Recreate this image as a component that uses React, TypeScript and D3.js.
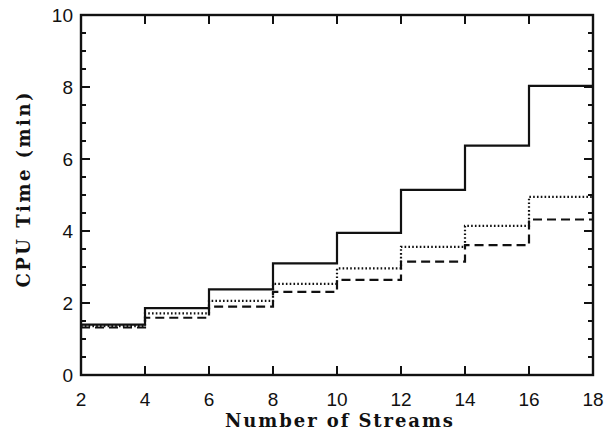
import * as d3 from "d3";

const width = 607;
const height = 433;
const margin = { top: 15, right: 14, bottom: 58, left: 81 };

// bin edges (number of streams) and CPU time per bin (min)
const streamEdges = [2, 4, 6, 8, 10, 12, 14, 16, 18];
const solidTimes = [1.4, 1.86, 2.38, 3.1, 3.95, 5.14, 6.37, 8.03];
const dottedTimes = [1.36, 1.71, 2.06, 2.53, 2.96, 3.56, 4.14, 4.95];
const dashedTimes = [1.32, 1.59, 1.9, 2.31, 2.64, 3.15, 3.61, 4.32];

const xTicks = [2, 4, 6, 8, 10, 12, 14, 16, 18];
const yTicks = [0, 2, 4, 6, 8, 10];
const yMinorTicks = d3.range(0, 10.01, 0.5);

const series = [
  { name: "solid", values: solidTimes, dash: "none" },
  { name: "dotted", values: dottedTimes, dash: "1.6 2.2" },
  { name: "dashed", values: dashedTimes, dash: "9 5" },
];

export default function App() {
  const innerWidth = width - margin.left - margin.right;
  const innerHeight = height - margin.top - margin.bottom;
  const x = d3.scaleLinear().domain([2, 18]).range([0, innerWidth]);
  const y = d3.scaleLinear().domain([0, 10]).range([innerHeight, 0]);

  const line = d3
    .line<[number, number]>()
    .x((d) => x(d[0]))
    .y((d) => y(d[1]))
    .curve(d3.curveStepAfter);

  const toPoints = (values: number[]): [number, number][] => [
    ...values.map((v, i) => [streamEdges[i], v] as [number, number]),
    [streamEdges[streamEdges.length - 1], values[values.length - 1]],
  ];

  const tickFont = { fontFamily: "'Liberation Sans', Arial, sans-serif", fontSize: 19 };
  const titleFont = { fontFamily: "'DejaVu Serif', serif", fontSize: 18, fontWeight: 700 };

  return (
    <svg width={width} height={height} style={{ position: "absolute", left: 0, top: 0, background: "#fff" }}>
      <g transform={`translate(${margin.left}, ${margin.top})`}>
        {series.map((s) => (
          <path
            key={s.name}
            d={line(toPoints(s.values)) ?? ""}
            fill="none"
            stroke="#111"
            strokeWidth={2.2}
            strokeDasharray={s.dash}
          />
        ))}

        {/* y minor + major ticks on both sides */}
        {yMinorTicks.map((t) => {
          const major = Math.abs(t % 2) < 1e-6;
          const len = major ? 9 : 5;
          return (
            <g key={`y${t}`} stroke="#111" strokeWidth={2}>
              <line x1={0} x2={len} y1={y(t)} y2={y(t)} />
              <line x1={innerWidth} x2={innerWidth - len} y1={y(t)} y2={y(t)} />
            </g>
          );
        })}
        {xTicks.map((t) => (
          <g key={`x${t}`} stroke="#111" strokeWidth={2}>
            <line x1={x(t)} x2={x(t)} y1={innerHeight} y2={innerHeight - 9} />
            <line x1={x(t)} x2={x(t)} y1={0} y2={9} />
          </g>
        ))}

        <rect x={0} y={0} width={innerWidth} height={innerHeight} fill="none" stroke="#111" strokeWidth={2.4} />

        {yTicks.map((t) => (
          <text key={`yl${t}`} x={-8} y={y(t)} dy="0.36em" textAnchor="end" fill="#111" style={tickFont}>
            {t}
          </text>
        ))}
        {xTicks.map((t) => (
          <text key={`xl${t}`} x={x(t)} y={innerHeight + 31} textAnchor="middle" fill="#111" style={tickFont}>
            {t}
          </text>
        ))}

        <text
          x={258}
          y={innerHeight + 52}
          textAnchor="middle"
          fill="#111"
          style={titleFont}
          textLength={228}
          lengthAdjust="spacing"
        >
          Number of Streams
        </text>
        <text
          transform={`translate(${-51}, ${175}) rotate(-90)`}
          textAnchor="middle"
          fill="#111"
          style={titleFont}
          textLength={195}
          lengthAdjust="spacing"
        >
          CPU Time (min)
        </text>
      </g>
    </svg>
  );
}
